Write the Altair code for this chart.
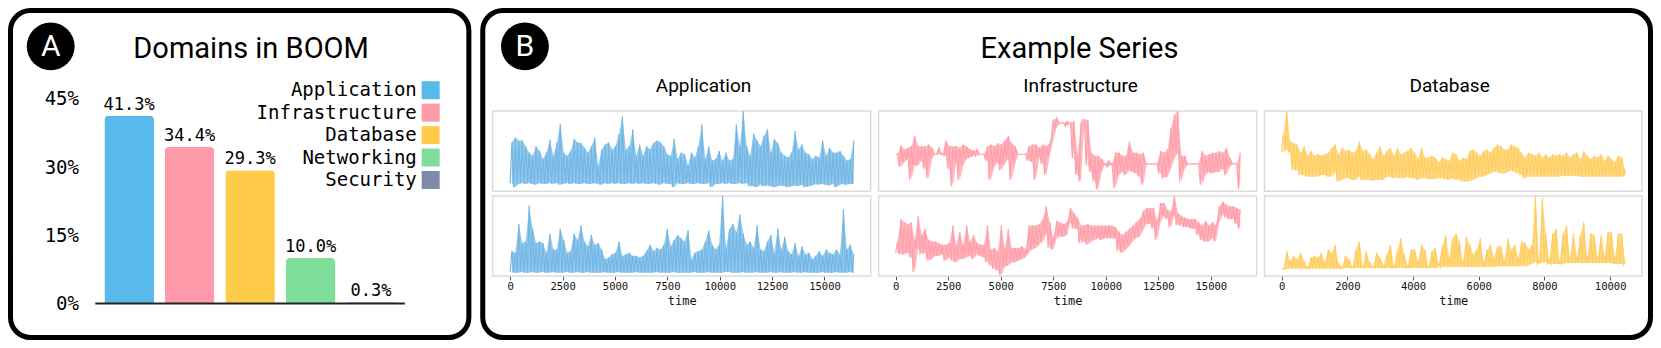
import altair as alt
import pandas as pd

# ---------------- data ----------------
domains = ["Application", "Infrastructure", "Database", "Networking", "Security"]
shares = [41.3, 34.4, 29.3, 10.0, 0.3]
share_labels = ["41.3%", "34.4%", "29.3%", "10.0%", "0.3%"]
domain_colors = ["#58b9eb", "#ff9aa8", "#ffcc4a", "#80de9b", "#7f8aa8"]
share_ticks = [0, 15, 30, 45]

panel_letters = ["A", "B"]
panel_titles = ["Domains in BOOM", "Example Series"]
column_titles = ["Application", "Infrastructure", "Database"]
series_colors = ["#72b7e6", "#ffa0aa", "#ffce62"]

app_time_max = 16400
infra_time_max = 16400
db_time_max = 10460
app_ticks = [0, 2500, 5000, 7500, 10000, 12500, 15000]
db_ticks = [0, 2000, 4000, 6000, 8000, 10000]

# series values (0 = bottom of panel, 100 = top of panel), read as high / low envelope pairs
app1_hi = [61, 67, 63, 63, 56, 48, 44, 56, 50, 40, 48, 64, 44, 60, 84, 48, 44, 50, 65, 61,
           60, 54, 48, 56, 67, 32, 52, 58, 61, 52, 56, 71, 93, 52, 56, 77, 44, 58, 44, 56,
           52, 60, 63, 61, 56, 46, 44, 65, 40, 48, 46, 32, 48, 42, 56, 83, 40, 56, 38, 40,
           50, 38, 48, 38, 40, 83, 56, 100, 56, 44, 72, 63, 56, 69, 77, 48, 65, 60, 48, 44,
           42, 48, 75, 52, 58, 48, 46, 40, 44, 42, 63, 44, 54, 48, 48, 50, 44, 38, 40, 63]
app1_lo = [10, 5, 9, 10, 9, 10, 9, 8, 10, 9, 9, 10, 9, 10, 8, 9, 10, 9, 10, 9,
           9, 10, 9, 9, 10, 9, 8, 10, 9, 10, 9, 10, 9, 9, 10, 9, 10, 9, 10, 9,
           9, 10, 9, 8, 10, 9, 9, 5, 10, 9, 9, 10, 9, 9, 10, 9, 9, 10, 5, 9,
           9, 10, 9, 10, 9, 9, 10, 9, 10, 6, 6, 5, 8, 6, 7, 6, 5, 6, 7, 6,
           5, 6, 7, 6, 8, 5, 6, 7, 9, 8, 9, 8, 7, 9, 5, 8, 9, 8, 9, 9]
app2_hi = [31, 29, 65, 41, 43, 88, 59, 41, 43, 41, 29, 53, 33, 33, 59, 45, 29, 31, 53, 45,
           63, 43, 37, 51, 39, 41, 33, 21, 23, 27, 29, 43, 25, 27, 29, 25, 25, 23, 25, 31,
           39, 31, 35, 33, 39, 59, 37, 45, 51, 47, 43, 57, 21, 29, 31, 33, 43, 57, 39, 33,
           39, 100, 35, 59, 65, 55, 77, 53, 39, 43, 35, 63, 33, 31, 43, 51, 29, 59, 33, 49,
           31, 27, 41, 25, 37, 27, 29, 21, 25, 31, 25, 33, 29, 27, 33, 27, 83, 33, 39, 27]
app2_lo = [5, 4, 4, 5, 4, 4, 5, 4, 4, 5, 4, 4, 5, 4, 4, 4, 5, 4, 4, 5,
           4, 4, 5, 4, 4, 4, 4, 5, 4, 4, 4, 5, 4, 4, 4, 4, 5, 4, 4, 4,
           4, 4, 5, 4, 4, 4, 4, 5, 4, 4, 4, 4, 4, 5, 4, 4, 4, 5, 4, 4,
           4, 4, 5, 5, 4, 4, 4, 5, 4, 4, 4, 5, 4, 4, 4, 5, 4, 4, 5, 4,
           4, 4, 5, 4, 4, 5, 4, 4, 4, 4, 5, 4, 4, 4, 5, 4, 4, 4, 5, 4]
infra1_hi = [46, 57, 52, 54, 56, 69, 56, 56, 56, 58, 54, 46, 54, 46, 63, 56, 56, 56, 54, 58,
             56, 52, 50, 52, 46, 46, 56, 58, 56, 60, 58, 63, 69, 60, 56, 46, 46, 46, 56, 58,
             58, 54, 58, 56, 60, 89, 91, 85, 85, 87, 85, 87, 44, 85, 89, 89, 48, 44, 44, 40,
             34, 38, 34, 48, 48, 44, 44, 62, 48, 48, 46, 48, 34, 34, 34, 34, 50, 48, 52, 79,
             95, 100, 44, 44, 34, 34, 34, 34, 50, 44, 46, 48, 48, 50, 48, 54, 42, 34, 34, 48]
infra1_lo = [46, 30, 36, 40, 14, 32, 32, 38, 28, 16, 40, 46, 46, 46, 44, 28, 6, 36, 14, 32,
             40, 42, 44, 44, 46, 46, 38, 14, 30, 36, 26, 34, 40, 14, 34, 46, 46, 46, 38, 36,
             14, 42, 34, 20, 44, 63, 79, 85, 85, 81, 85, 41, 20, 12, 89, 32, 24, 12, 2, 24,
             34, 30, 34, 4, 20, 24, 20, 26, 24, 22, 18, 8, 34, 34, 34, 34, 22, 16, 18, 28,
             40, 48, 12, 28, 34, 34, 34, 34, 8, 20, 24, 22, 24, 24, 28, 20, 30, 34, 34, 2]
infra2_hi = [43, 71, 67, 65, 67, 45, 75, 51, 59, 45, 43, 43, 41, 39, 39, 41, 63, 39, 55, 39,
             63, 43, 51, 41, 39, 39, 63, 33, 35, 31, 63, 35, 59, 35, 35, 35, 37, 33, 63, 63,
             63, 65, 71, 87, 67, 47, 69, 67, 65, 67, 85, 79, 73, 63, 63, 65, 63, 63, 63, 63,
             63, 63, 63, 61, 55, 51, 55, 59, 63, 67, 71, 81, 85, 85, 85, 69, 91, 91, 83, 81,
             100, 79, 75, 73, 71, 71, 71, 67, 63, 69, 63, 67, 63, 87, 93, 89, 87, 87, 85, 83]
infra2_lo = [29, 27, 27, 29, 23, 5, 35, 27, 29, 19, 21, 25, 25, 27, 19, 23, 19, 17, 21, 21,
             23, 25, 21, 27, 25, 23, 17, 13, 9, 7, 1, 11, 13, 17, 17, 19, 21, 23, 29, 33,
             35, 39, 43, 53, 35, 33, 47, 49, 49, 51, 67, 59, 59, 41, 43, 39, 43, 45, 47, 45,
             47, 47, 47, 47, 31, 29, 33, 37, 43, 47, 49, 57, 65, 65, 59, 45, 67, 75, 71, 61,
             75, 63, 63, 61, 61, 59, 59, 51, 45, 43, 43, 47, 43, 67, 77, 73, 71, 71, 65, 59]
db1_hi = [71, 100, 62, 60, 58, 48, 56, 44, 50, 44, 46, 44, 46, 48, 54, 58, 46, 54, 50, 52,
          48, 50, 62, 50, 52, 46, 40, 48, 56, 44, 50, 54, 44, 54, 46, 48, 50, 54, 48, 40,
          54, 42, 42, 44, 42, 36, 42, 40, 38, 48, 46, 38, 42, 40, 50, 52, 48, 44, 50, 52,
          48, 54, 58, 56, 52, 52, 58, 56, 54, 48, 42, 48, 46, 44, 48, 42, 46, 42, 46, 44,
          46, 44, 48, 42, 46, 48, 40, 50, 44, 40, 44, 42, 46, 38, 44, 40, 36, 44, 42, 26]
db1_lo = [48, 52, 48, 26, 26, 20, 20, 18, 18, 18, 18, 20, 20, 18, 18, 24, 12, 14, 16, 16,
          14, 14, 18, 14, 14, 14, 13, 14, 14, 14, 18, 18, 16, 17, 16, 16, 18, 16, 16, 14,
          16, 16, 15, 15, 15, 16, 16, 15, 14, 16, 14, 14, 12, 12, 12, 14, 16, 18, 18, 20,
          22, 24, 24, 22, 22, 24, 26, 24, 22, 20, 16, 18, 18, 18, 18, 18, 18, 18, 18, 18,
          18, 19, 19, 19, 19, 19, 18, 18, 18, 18, 18, 18, 18, 18, 18, 18, 18, 18, 18, 19]
db2_hi = [9, 31, 19, 25, 21, 29, 19, 11, 23, 25, 23, 29, 17, 33, 29, 39, 15, 11, 25, 21,
          11, 33, 43, 11, 31, 17, 11, 29, 23, 13, 27, 39, 13, 31, 47, 27, 13, 33, 33, 19,
          39, 33, 11, 31, 35, 15, 37, 51, 23, 47, 53, 43, 17, 49, 39, 27, 33, 47, 17, 33,
          39, 23, 37, 37, 19, 47, 33, 39, 23, 43, 41, 33, 39, 100, 19, 97, 53, 19, 53, 59,
          19, 53, 63, 23, 53, 23, 51, 67, 23, 53, 51, 23, 51, 25, 55, 55, 23, 53, 53, 17]
db2_lo = [8, 9, 9, 9, 9, 9, 9, 9, 9, 9, 9, 9, 9, 9, 9, 9, 9, 9, 10, 10,
          10, 10, 10, 10, 10, 10, 10, 10, 10, 10, 10, 10, 10, 10, 10, 10, 10, 10, 10, 10,
          10, 10, 10, 10, 10, 11, 11, 11, 11, 11, 11, 11, 11, 11, 11, 11, 11, 11, 11, 11,
          11, 11, 12, 12, 12, 12, 12, 12, 12, 12, 12, 13, 15, 17, 15, 17, 17, 15, 15, 15,
          15, 15, 16, 16, 16, 16, 16, 16, 16, 16, 16, 16, 16, 16, 16, 16, 15, 15, 15, 14]

# ---------------- layout helpers ----------------
W, H = 1645, 332


def X(r):
    return 2.5 + (r - 2.5) * (1640.0 / 1653.0)


def Y(r):
    return 2.5 + (r - 2.5) * (327.0 / 342.5)


MONO = "DejaVu Sans Mono"
SANS = "Roboto"
one = pd.DataFrame({"k": [0]})


def frame(x0, x1, y0, y1, color, width, radius):
    return alt.Chart(one).mark_rect(filled=False, stroke=color, strokeWidth=width,
                                    cornerRadius=radius).encode(
        x=alt.value(X(x0)), x2=alt.value(X(x1)), y=alt.value(Y(y0)), y2=alt.value(Y(y1)))


def label(text, x, y, size, font=SANS, color="black", baseline="alphabetic"):
    return alt.Chart(one).mark_text(text=text, font=font, fontSize=size, color=color,
                                    align="center", baseline=baseline).encode(
        x=alt.value(X(x)), y=alt.value(Y(y)))


def badge(x, y):
    return alt.Chart(one).mark_circle(size=2290, color="black", opacity=1).encode(
        x=alt.value(X(x)), y=alt.value(Y(y)))


def zigzag_frame(hi, lo, tmax):
    vals = []
    for h, l in zip(hi, lo):
        vals.extend([l, h])
    n = len(vals)
    return pd.DataFrame({"time": [tmax * k / (n - 1) for k in range(n)], "value": vals})


def band_frame(hi, lo, tmax):
    n = 2 * len(hi)
    return pd.DataFrame({"time": [tmax * (2 * i + 1) / (n - 1) for i in range(len(hi))],
                         "hi": hi, "lo": lo})


def time_axis(ticks, bottom):
    return alt.Axis(orient="bottom", offset=Y(bottom) - H, values=ticks, format="d",
                    domain=False, grid=False, ticks=True, tickSize=4, tickColor="#555",
                    tickWidth=1, labelFont=MONO, labelFontSize=10.5, labelColor="#111",
                    labelPadding=2, labelFlush=False, labelOverlap=False, title="time",
                    titleFont=MONO, titleFontSize=12, titleFontWeight="normal",
                    titleColor="#111", titlePadding=3)


def series_layer(hi, lo, tmax, color, left, right, top, bottom, xdom, ticks=None):
    axis = time_axis(ticks, bottom) if ticks is not None else None
    xs = alt.Scale(domain=xdom, range=[X(left), X(right)], nice=False, zero=False)
    ys = alt.Scale(domain=[0, 100], range=[Y(bottom), Y(top)], nice=False, zero=False)
    band = alt.Chart(band_frame(hi, lo, tmax)).mark_area(color=color, opacity=0.75).encode(
        x=alt.X("time:Q", scale=xs, axis=axis),
        y=alt.Y("hi:Q", scale=ys, axis=None),
        y2="lo:Q")
    line = alt.Chart(zigzag_frame(hi, lo, tmax)).mark_line(color=color, strokeWidth=1.2).encode(
        x=alt.X("time:Q", scale=xs, axis=axis),
        y=alt.Y("value:Q", scale=ys, axis=None),
        order="time:Q")
    return alt.layer(band, line)


layers = []

# panel frames, badges, titles
layers.append(frame(2.5, 464.5, 2.5, 345, "black", 5, 20))
layers.append(frame(478.5, 1655.5, 2.5, 345, "black", 5, 20))
layers.append(badge(43, 40))
layers.append(badge(521, 40))
layers.append(label(panel_letters[0], 43, 41, 30, color="white", baseline="middle"))
layers.append(label(panel_letters[1], 521, 41, 30, color="white", baseline="middle"))
layers.append(label(panel_titles[0], 245, 52, 29))
layers.append(label(panel_titles[1], 1080, 52, 29))
layers.append(label(column_titles[0], 701, 88, 19))
layers.append(label(column_titles[1], 1081, 88, 19))
layers.append(label(column_titles[2], 1453, 88, 19))

# ---------------- panel A ----------------
bars_df = pd.DataFrame({"domain": domains, "share": shares, "label": share_labels})
xA = alt.X("domain:N", sort=domains,
           scale=alt.Scale(domain=domains, range=[X(88), X(400)], paddingInner=0.18,
                           paddingOuter=0.15), axis=None)
yA = alt.Y("share:Q",
           scale=alt.Scale(domain=[0, 45], range=[Y(309.5), Y(95)], nice=False, zero=True),
           axis=alt.Axis(orient="left", offset=-X(71), values=share_ticks,
                         labelExpr="datum.value + '%'", domain=False, ticks=False, grid=False,
                         labelFont=MONO, labelFontSize=19, labelColor="black", labelPadding=0,
                         title=None))
colA = alt.Color("domain:N", scale=alt.Scale(domain=domains, range=domain_colors), legend=None)
bars = alt.Chart(bars_df).mark_bar(cornerRadiusTopLeft=4, cornerRadiusTopRight=4).encode(
    x=xA, y=yA, color=colA)
bar_text = alt.Chart(bars_df).mark_text(dy=-6, baseline="alphabetic", font=MONO, fontSize=17,
                                        color="black").encode(x=xA, y=yA, text="label:N")
base_rule = alt.Chart(one).mark_rule(color="#222", strokeWidth=2).encode(
    y=alt.datum(0), x=alt.value(X(88)), x2=alt.value(X(400)))
layers.append(alt.layer(bars, bar_text, base_rule))

legend_df = pd.DataFrame({"domain": domains})
yL = alt.Y("domain:N", sort=domains,
           scale=alt.Scale(type="point", domain=domains, range=[Y(86), Y(180)], padding=0),
           axis=None)
leg_text = alt.Chart(legend_df).mark_text(align="right", baseline="middle", font=MONO,
                                          fontSize=19, color="black").encode(
    y=yL, x=alt.value(X(412)), text="domain:N")
leg_sq = alt.Chart(legend_df).mark_square(size=324, opacity=1).encode(
    y=yL, x=alt.value(X(426)),
    color=alt.Color("domain:N", scale=alt.Scale(domain=domains, range=domain_colors),
                    legend=None))
layers.append(alt.layer(leg_text, leg_sq))

# ---------------- panel B ----------------
cols = [(488.5, 869.5), (877.5, 1258.5), (1266.5, 1647.0)]
rows = [(107.7, 191.7), (196.7, 280.5)]
for (l, r) in cols:
    for (t, b) in rows:
        layers.append(frame(l, r, t, b, "#dcdcdc", 1.5, 0))

app_dom = [-836, 17206]
infra_dom = [-815, 17181]
db_dom = [-520, 10972]
layers.append(series_layer(app1_hi, app1_lo, app_time_max, series_colors[0], *cols[0], *rows[0], app_dom))
layers.append(series_layer(app2_hi, app2_lo, app_time_max, series_colors[0], *cols[0], *rows[1], app_dom, app_ticks))
layers.append(series_layer(infra1_hi, infra1_lo, infra_time_max, series_colors[1], *cols[1], *rows[0], infra_dom))
layers.append(series_layer(infra2_hi, infra2_lo, infra_time_max, series_colors[1], *cols[1], *rows[1], infra_dom, app_ticks))
layers.append(series_layer(db1_hi, db1_lo, db_time_max, series_colors[2], *cols[2], *rows[0], db_dom))
layers.append(series_layer(db2_hi, db2_lo, db_time_max, series_colors[2], *cols[2], *rows[1], db_dom, db_ticks))

chart = alt.layer(*layers).properties(
    width=W, height=H, autosize=alt.AutoSizeParams(type="none"), padding=0,
    background="white"
).resolve_scale(x="independent", y="independent", color="independent").configure_view(stroke=None)

chart.save("out.html", embed_options={"renderer": "svg", "actions": False})
